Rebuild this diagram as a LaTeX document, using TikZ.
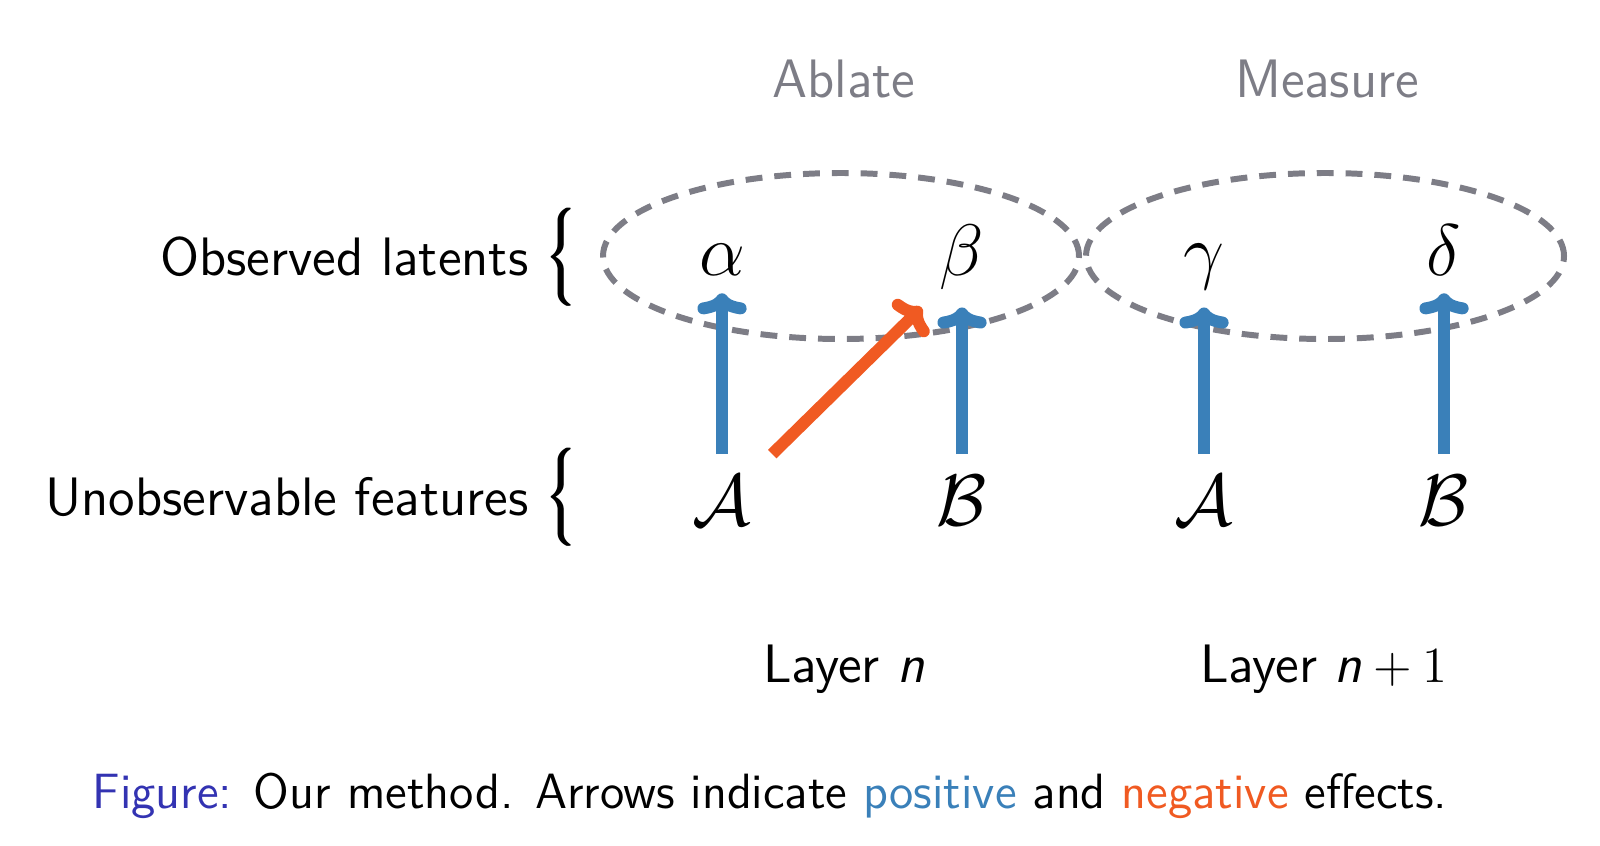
\documentclass[tikz,border=0pt]{standalone}
\usepackage{amsmath,amssymb}
\usepackage{tikz}
\usetikzlibrary{arrows.meta,positioning}

\definecolor{posblue}{RGB}{58,128,185}
\definecolor{negorange}{RGB}{240,90,34}
\definecolor{ringgray}{RGB}{125,125,134}
\definecolor{figblue}{RGB}{51,51,178}
\newcommand{\txtfont}{\fontsize{15.4}{18.5}\selectfont\sffamily}
\newcommand{\symfont}{\fontsize{22.3}{26}\selectfont}
\newcommand{\capfont}{\fontsize{14.1}{17}\selectfont\sffamily}
% brace glyph, overprinted a little to make it heavier
\newcommand{\braceglyph}{$\left\{\vcenter to 29pt{\vfil}\right.$}
\newcommand{\rowbrace}{\scalebox{0.93}{\rlap{\braceglyph}\kern0.3pt\rlap{\braceglyph}\kern0.3pt\rlap{\braceglyph}\kern0.3pt\braceglyph}}

\begin{document}
\begin{tikzpicture}[
  sym/.style={font=\symfont, inner sep=0pt, outer sep=5.2pt, anchor=base},
  feat/.style={font=\symfont, inner sep=0pt, outer sep=6pt, anchor=base},
  head/.style={font=\txtfont, text=ringgray, anchor=base},
  rowlabel/.style={font=\txtfont, inner sep=0pt},
  bracenode/.style={font=\fontsize{10}{12}\selectfont, inner sep=0pt, anchor=west},
  posarrow/.style={posblue, line width=3.4pt, -{Computer Modern Rightarrow[round,length=6pt,width=14pt]}},
  negarrow/.style={negorange, line width=3.4pt, -{Computer Modern Rightarrow[round,length=6pt,width=14pt]}},
  ring/.style={ringgray, line width=1.7pt, dash pattern=on 4.8pt off 3.4pt},
]
\useasboundingbox (0,0) rectangle (16,8.45);
% Column headers
\node[head] (ablate) at (8.44,7.47) {Ablate};
\node[head] (measure) at (13.27,7.47) {Measure};
% Dashed groups
\draw[ring] (8.41,5.89) ellipse [x radius=2.38, y radius=0.83];
\draw[ring] (13.25,5.89) ellipse [x radius=2.39, y radius=0.83];
% Observed latents
\foreach \nm/\x/\s in {alpha/7.22/\alpha, beta/9.62/\beta, gamma/12.04/\gamma, delta/14.44/\delta} {
  \node[sym] (\nm) at (\x,5.70) {$\s$};
}
% Unobservable features
\foreach \nm/\x/\s in {featA1/7.22/\mathcal{A}, featB1/9.62/\mathcal{B}, featA2/12.04/\mathcal{A}, featB2/14.44/\mathcal{B}} {
  \node[feat] (\nm) at (\x,3.20) {$\s$};
}
% Effects
\foreach \from/\to in {featA1/alpha, featB1/beta, featA2/gamma, featB2/delta} {
  \draw[posarrow] (\from) -- (\to);
}
\draw[negarrow] (featA1.north east) -- (beta.south west);
% Row labels with braces
\node[bracenode] (braceobs) at (5.46,5.88) {\rowbrace};
\node[bracenode] (bracefeat) at (5.46,3.48) {\rowbrace};
\node[rowlabel, left=0.17 of braceobs] (obslabel) {Observed latents};
\node[rowlabel, left=0.17 of bracefeat] (featlabel) {Unobservable features};
% Layers
\node[head, text=black] (layern) at (8.44,1.63) {Layer \textit{n}};
\node[head, text=black] (layernext) at (13.24,1.63) {Layer $\textit{n}+1$};
% Caption
\node[font=\capfont, anchor=base] (caption) at (7.70,0.37) {{\color{figblue}Figure:} Our method. Arrows indicate {\color{posblue}positive} and {\color{negorange}negative} effects.};
\end{tikzpicture}
\end{document}
